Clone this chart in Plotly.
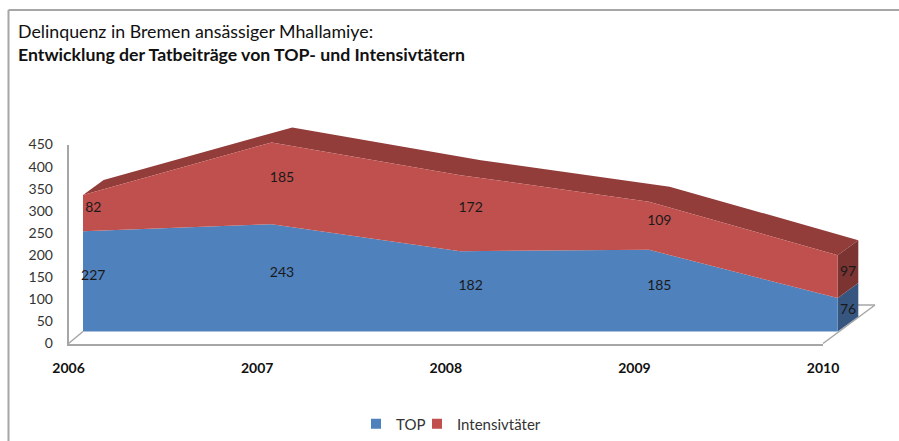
import plotly.graph_objects as go

years = [2006, 2007, 2008, 2009, 2010]
top = [227, 243, 182, 185, 76]
intensiv = [82, 185, 172, 109, 97]
y_ticks = [0, 50, 100, 150, 200, 250, 300, 350, 400, 450]
title_1 = "Delinquenz in Bremen ansässiger Mhallamiye:"
title_2 = "Entwicklung der Tatbeiträge von TOP- und Intensivtätern"

W, H = 899, 441
FONT = "Lato"
GREY = "#a6a6a6"
BLUE, RED = "#4f81bd", "#c0504d"
BLUE_SIDE, RED_SIDE, RED_TOP = "#37567f", "#7b3432", "#933d3b"
TXT = "#1a1a1a"

# projection of the pseudo-3D box, in pixels
PX_PER_YEAR = (837.7 - 83) / 4
PX_PER_UNIT = 0.442
DEPTH_X = 20.6 / PX_PER_YEAR     # years
DEPTH_Y = 15 / PX_PER_UNIT       # value units
LABEL_DROP = 3 / PX_PER_UNIT

X_L, X_R = 68.5, 880.0           # plot pixels
Y_B, Y_T = 345.0, 115.0
AREA_X0, AREA_Y0 = 83.0, 331.6   # pixel of (2006, 0) of the front face

x_range = [2006 + (X_L - AREA_X0) / PX_PER_YEAR, 2006 + (X_R - AREA_X0) / PX_PER_YEAR]
y_range = [(AREA_Y0 - Y_B) / PX_PER_UNIT, (AREA_Y0 - Y_T) / PX_PER_UNIT]

total = [a + b for a, b in zip(top, intensiv)]
rev = years[::-1]
back_x = [x + DEPTH_X for x in rev]
last = years[-1]

fig = go.Figure()


def poly(xs, ys, color):
    fig.add_trace(go.Scatter(x=xs, y=ys, fill="toself", mode="lines", fillcolor=color,
                             line=dict(width=0, color=color), hoverinfo="skip", showlegend=False))


# top face and right side faces
poly(years + back_x, total + [v + DEPTH_Y for v in total[::-1]], RED_TOP)
poly([last, last + DEPTH_X, last + DEPTH_X, last], [0, DEPTH_Y, top[-1] + DEPTH_Y, top[-1]], BLUE_SIDE)
poly([last, last + DEPTH_X, last + DEPTH_X, last],
     [top[-1], top[-1] + DEPTH_Y, total[-1] + DEPTH_Y, total[-1]], RED_SIDE)
# front faces
poly(years + rev, top + [0] * 5, BLUE)
poly(years + rev, total + top[::-1], RED)

# data labels sit half way into the depth
lab_x = [x + DEPTH_X / 2 for x in years]
fig.add_trace(go.Scatter(x=lab_x, y=[v / 2 + DEPTH_Y / 2 - LABEL_DROP for v in top],
                         text=[str(v) for v in top],
                         mode="text", textfont=dict(family=FONT, size=14, color=TXT),
                         hoverinfo="skip", showlegend=False))
fig.add_trace(go.Scatter(x=lab_x, y=[a + b / 2 + DEPTH_Y / 2 - LABEL_DROP for a, b in zip(top, intensiv)],
                         text=[str(v) for v in intensiv], mode="text",
                         textfont=dict(family=FONT, size=14, color=TXT),
                         hoverinfo="skip", showlegend=False))

# legend entries, each in its own legend so their spacing can be tight
for name, color, leg in (("TOP", BLUE, "legend"), ("Intensivtäter", RED, "legend2")):
    fig.add_trace(go.Scatter(x=[None], y=[None], mode="markers", name=name, legend=leg,
                             marker=dict(symbol="square", size=10, color=color)))

# axis drawn on the wall/floor, with the real tick labels
fig.add_trace(go.Scatter(x=years, y=[0] * 5, xaxis="x2", yaxis="y2", mode="lines",
                         line=dict(width=0), hoverinfo="skip", showlegend=False))

floor = [
    (68.5, 343.5, 83, 331.5),
    (823, 343.5, 875, 305),
    (858, 305, 875, 305),
]
shapes = [dict(type="line", xref="paper", yref="paper", layer="below",
               x0=a / W, y0=1 - b / H, x1=c / W, y1=1 - d / H,
               line=dict(color=GREY, width=1.5)) for a, b, c, d in floor]
frame = [(8.5, H, 8.5, 10), (8.5, 10, W, 10)]
shapes += [dict(type="line", xref="paper", yref="paper", layer="below",
                x0=a / W, y0=1 - b / H, x1=c / W, y1=1 - d / H,
                line=dict(color=GREY, width=2)) for a, b, c, d in frame]

legend_font = dict(family=FONT, size=15, color="#333333")

fig.update_layout(
    width=W, height=H,
    margin=dict(l=0, r=0, t=0, b=0, autoexpand=False),
    paper_bgcolor="white", plot_bgcolor="rgba(0,0,0,0)",
    font=dict(family=FONT, color="#333333"),
    xaxis=dict(domain=[X_L / W, X_R / W], range=x_range, visible=False),
    yaxis=dict(domain=[1 - Y_B / H, 1 - Y_T / H], range=y_range, visible=False),
    xaxis2=dict(domain=[68.5 / W, 823 / W], range=[2006, 2010], anchor="y2",
                tickvals=years, ticktext=[str(y) for y in years], ticks="",
                tickfont=dict(family=FONT, size=14, color="#111111", weight="bold"),
                ticklabelstandoff=11, showgrid=False, zeroline=False,
                showline=True, linecolor=GREY, linewidth=1.5),
    yaxis2=dict(domain=[1 - 343.5 / H, 1 - 144.5 / H], range=[0, 450], anchor="x2",
                tickvals=y_ticks, ticks="", tickfont=dict(family=FONT, size=14, color="#333333"),
                ticklabelstandoff=11, showgrid=False, zeroline=False,
                showline=True, linecolor=GREY, linewidth=1.5),
    legend=dict(orientation="h", x=356 / W, xanchor="left", y=1 - 424 / H, yanchor="middle",
                font=legend_font, bgcolor="rgba(0,0,0,0)"),
    legend2=dict(orientation="h", x=417 / W, xanchor="left", y=1 - 424 / H, yanchor="middle",
                 font=legend_font, bgcolor="rgba(0,0,0,0)"),
    annotations=[
        dict(text=title_1, xref="paper", yref="paper", x=16 / W, y=1 - 31 / H, xanchor="left",
             yanchor="middle", showarrow=False, font=dict(family=FONT, size=17.8, color="#111111")),
        dict(text="<b>" + title_2 + "</b>", xref="paper", yref="paper", x=16 / W, y=1 - 54 / H,
             xanchor="left", yanchor="middle", showarrow=False,
             font=dict(family=FONT, size=17.7, color="#111111")),
    ],
    shapes=shapes,
)
fig.write_html("out.html", post_script="document.body.style.margin='0';",
               config={"displayModeBar": False})
